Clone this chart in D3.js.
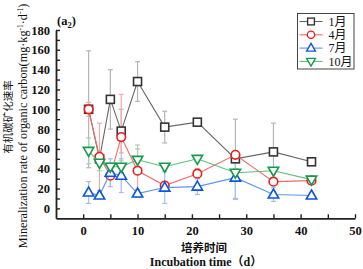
<!DOCTYPE html>
<html>
<head>
<meta charset="utf-8">
<script src="https://cdn.jsdelivr.net/npm/d3@7"></script>
<style>
  body { margin: 0; background: #fff; }
  svg { display: block; }
</style>
</head>
<body>
<div id="chart"></div>
<script>
// 有机碳矿化速率随培养时间的变化
var days = [1, 3, 5, 7, 10, 15, 21, 28, 35, 42];
var seriesNames = ["1月", "4月", "7月", "10月"];
var janVal = [100, 50, 110, 78, 128, 82, 87, 50, 57, 47];
var janErr = [59, 5, 30, 22, 20, 16, 3, 40, 29, 2];
var aprVal = [100, 52, 33, 72, 38, 23, 35, 54, 27, 28];
var aprErr = [7, 34, 11, 43, 22, 3, 5, 4, 3, 2];
var julVal = [16, 13, 36, 33, 15, 21, 22, 31, 14, 13];
var julErr = [11, 3, 14, 17, 4, 16, 8, 22, 7, 1];
var octVal = [58, 46, 42, 42, 49, 42, 50, 36, 38, 29];
var octErr = [13, 8, 4, 6, 15, 3, 3, 4, 3, 2];
var xTicks = [0, 5, 10, 15, 20, 25, 30, 35, 40, 45, 50];
var yTicks = [0, 10, 20, 30, 40, 50, 60, 70, 80, 90, 100, 110, 120, 130, 140, 150, 160, 170, 180];

var chart_width = 363, chart_height = 269;
var serif = "'Liberation Serif', 'Times New Roman', serif";
var cjk = "'Noto Sans CJK SC', sans-serif";

var series = [
    { name: seriesNames[0], val: janVal, err: janErr, shape: "square", line: "#666", mark: "#333", errc: "#b5b5b5" },
    { name: seriesNames[1], val: aprVal, err: aprErr, shape: "circle", line: "#f26b6b", mark: "#ee1c1c", errc: "#f5a8a8" },
    { name: seriesNames[2], val: julVal, err: julErr, shape: "up", line: "#5b95ec", mark: "#0a55e0", errc: "#a2bff0" },
    { name: seriesNames[3], val: octVal, err: octErr, shape: "down", line: "#5fbd7c", mark: "#16994a", errc: "#a3d3b0" }
];

var svg = d3.select("#chart").append("svg")
    .attr("width", chart_width)
    .attr("height", chart_height);

var x = d3.scaleLinear().domain([-5, 50]).range([56, 355]);
var y = d3.scaleLinear().domain([-10, 180]).range([218.3, 30]);

// axes
var xAxis = svg.append("g")
    .attr("transform", "translate(0," + y(-10) + ")")
    .call(d3.axisBottom(x).tickValues(xTicks).tickSizeInner(-4).tickSizeOuter(0)
        .tickPadding(8)
        .tickFormat(function (d) { return d % 10 === 0 ? d : ""; }));
var yAxis = svg.append("g")
    .attr("transform", "translate(" + x(-5) + ",0)")
    .call(d3.axisLeft(y).tickValues(yTicks).tickSizeInner(-4).tickSizeOuter(0)
        .tickPadding(6)
        .tickFormat(function (d) { return d % 20 === 0 ? d : ""; }));

[xAxis, yAxis].forEach(function (ax) {
    ax.select(".domain").attr("stroke", "#222").attr("stroke-width", 1.8);
    ax.selectAll(".tick line").attr("stroke", "#222").attr("stroke-width", 1.4);
    ax.selectAll(".tick text")
        .attr("font-family", serif)
        .attr("font-weight", "bold")
        .attr("font-size", "12.5px")
        .attr("fill", "#111");
});

// marker drawing
function drawMarker(g, shape, color) {
    if (shape == "square") {
        g.append("rect").attr("x", -4).attr("y", -4).attr("width", 8).attr("height", 8);
    } else if (shape == "circle") {
        g.append("circle").attr("r", 4.3);
    } else if (shape == "up") {
        g.append("path").attr("d", "M0,-5.5L5.2,3.5L-5.2,3.5Z");
    } else {
        g.append("path").attr("d", "M0,5.5L5.2,-3.5L-5.2,-3.5Z");
    }
    g.selectAll("*")
        .attr("fill", "#fff")
        .attr("stroke", color)
        .attr("stroke-width", 1.6);
}

// error bars
series.forEach(function (s) {
    var eb = svg.append("g");
    days.forEach(function (d, i) {
        var top = y(s.val[i] + s.err[i]), bot = y(s.val[i] - s.err[i]), cx = x(d);
        eb.append("line").attr("x1", cx).attr("x2", cx).attr("y1", top).attr("y2", bot)
            .attr("stroke", s.errc).attr("stroke-width", 1.2);
        [top, bot].forEach(function (yy) {
            eb.append("line").attr("x1", cx - 2.5).attr("x2", cx + 2.5).attr("y1", yy).attr("y2", yy)
                .attr("stroke", s.errc).attr("stroke-width", 1.2);
        });
    });
});

// lines and markers
var line = d3.line()
    .x(function (d) { return x(d[0]); })
    .y(function (d) { return y(d[1]); });

series.forEach(function (s) {
    var pts = days.map(function (d, i) { return [d, s.val[i]]; });
    svg.append("path")
        .datum(pts)
        .attr("d", line)
        .attr("fill", "none")
        .attr("stroke", s.line)
        .attr("stroke-width", 1.1);
    pts.forEach(function (p) {
        var g = svg.append("g").attr("transform", "translate(" + x(p[0]) + "," + y(p[1]) + ")");
        drawMarker(g, s.shape, s.mark);
    });
});

// legend
var legend = svg.append("g").attr("transform", "translate(297.5,13.5)");
legend.append("rect")
    .attr("width", 56.5).attr("height", 55.5)
    .attr("fill", "#fff").attr("stroke", "#444").attr("stroke-width", 1);
series.forEach(function (s, i) {
    var row = legend.append("g").attr("transform", "translate(0," + (8 + i * 13.3) + ")");
    row.append("line").attr("x1", 2).attr("x2", 25).attr("y1", 0).attr("y2", 0)
        .attr("stroke", s.line).attr("stroke-width", 1.1);
    var mk = row.append("g").attr("transform", "translate(13.5,0) scale(0.85)");
    drawMarker(mk, s.shape, s.mark);
    row.append("text")
        .attr("x", 31).attr("y", 0).attr("dy", "0.35em")
        .attr("font-family", serif + ", " + cjk)
        .attr("font-size", "12px")
        .attr("fill", "#111")
        .text(s.name);
});

// titles
svg.append("text")
    .attr("x", 57).attr("y", 25)
    .attr("font-family", serif).attr("font-weight", "bold").attr("font-size", "12.5px")
    .attr("fill", "#111")
    .text("(a")
    .append("tspan").attr("font-size", "8.5px").attr("dy", "3").text("2")
    .select(function () { return this.parentNode; })
    .append("tspan").attr("dy", "-3").text(")");

svg.append("text")
    .attr("transform", "translate(12,117) rotate(-90)")
    .attr("text-anchor", "middle")
    .attr("font-family", cjk).attr("font-size", "10.5px").attr("fill", "#111")
    .text("有机碳矿化速率");

var ylab = svg.append("text")
    .attr("transform", "translate(27,126) rotate(-90)")
    .attr("text-anchor", "middle")
    .attr("font-family", serif).attr("font-size", "12.2px").attr("fill", "#111")
    .text("Mineralization rate of organic carbon(mg·kg");
ylab.append("tspan").attr("dy", "-4").attr("font-size", "7.5px").text("-1");
ylab.append("tspan").attr("dy", "4").text("·d");
ylab.append("tspan").attr("dy", "-4").attr("font-size", "7.5px").text("-1");
ylab.append("tspan").attr("dy", "4").text(")");

svg.append("text")
    .attr("x", 204).attr("y", 252)
    .attr("text-anchor", "middle")
    .attr("font-family", cjk).attr("font-weight", "bold").attr("font-size", "11.5px").attr("fill", "#111")
    .text("培养时间");

svg.append("text")
    .attr("x", 206).attr("y", 266)
    .attr("text-anchor", "middle")
    .attr("font-family", serif + ", " + cjk).attr("font-weight", "bold").attr("font-size", "12px").attr("fill", "#111")
    .text("Incubation time（d）");
</script>
</body>
</html>
